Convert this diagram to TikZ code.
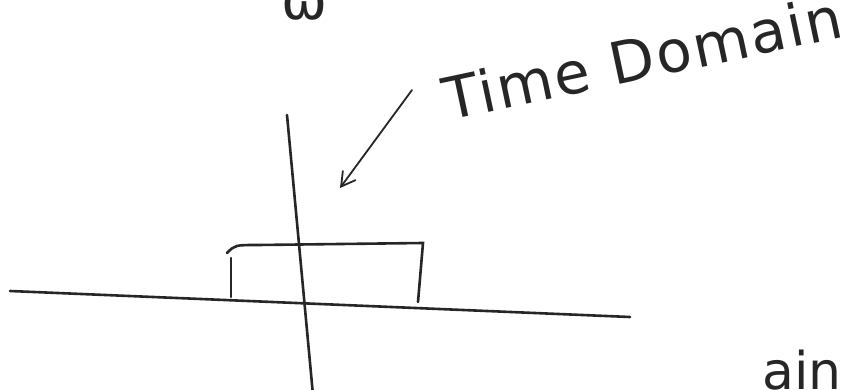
\documentclass[tikz,border=0pt]{standalone}
\usepackage{fontspec}
\setmainfont{DejaVu Sans}
\usetikzlibrary{positioning, arrows.meta}

\begin{document}
\begin{tikzpicture}[
    x=1pt, y=-1pt,
    >={Straight Barb[length=14pt, width=16pt]},
    % Stile per i tratti a mano
    tratto/.style={line width=2.6pt, line cap=round, black!85},
    scritta/.style={inner sep=0pt, text=black!85, font=\fontsize{58}{58}\selectfont}
]
    \useasboundingbox (0,0) rectangle (848,390);
    \clip (0,0) rectangle (848,390);

    % Definizione dei Nodi
    \node[scritta, rotate=12, anchor=base west] (tempo) at (448,121) {\addfontfeature{LetterSpace=4}Time Domain};
    \node[scritta, anchor=base, font=\fontsize{55}{55}\selectfont] (omega) at (305,20) {ω};
    \node[scritta, anchor=base west, font=\fontsize{52}{52}\selectfont] (freq) at (762,389) {ain};

    % Punti degli assi e dell'impulso
    \coordinate (xsx) at (10,291);
    \coordinate (xdx) at (630,317);
    \coordinate (yalto) at (287,115);
    \coordinate (ybasso) at (313,395);
    \coordinate (sxbasso) at (231,297);
    \coordinate (sxalto) at (231,258);
    \coordinate (cima) at (227,253);
    \coordinate (dxalto) at (423,243);
    \coordinate (dxbasso) at (418,302);
    \coordinate (coda) at (412,90);
    \coordinate (punta) at (340,188);

    % Assi
    \draw[tratto] (xsx) -- (xdx);
    \draw[tratto] (yalto) -- (ybasso);

    % Impulso
    \draw[tratto] (sxbasso) -- (sxalto);
    \draw[tratto] (cima) .. controls (235,245) .. (258,245) -- (dxalto) -- (dxbasso);

    % Freccia verso l'impulso
    \draw[tratto, line width=1.8pt, ->] (coda) -- (punta);

\end{tikzpicture}
\end{document}
